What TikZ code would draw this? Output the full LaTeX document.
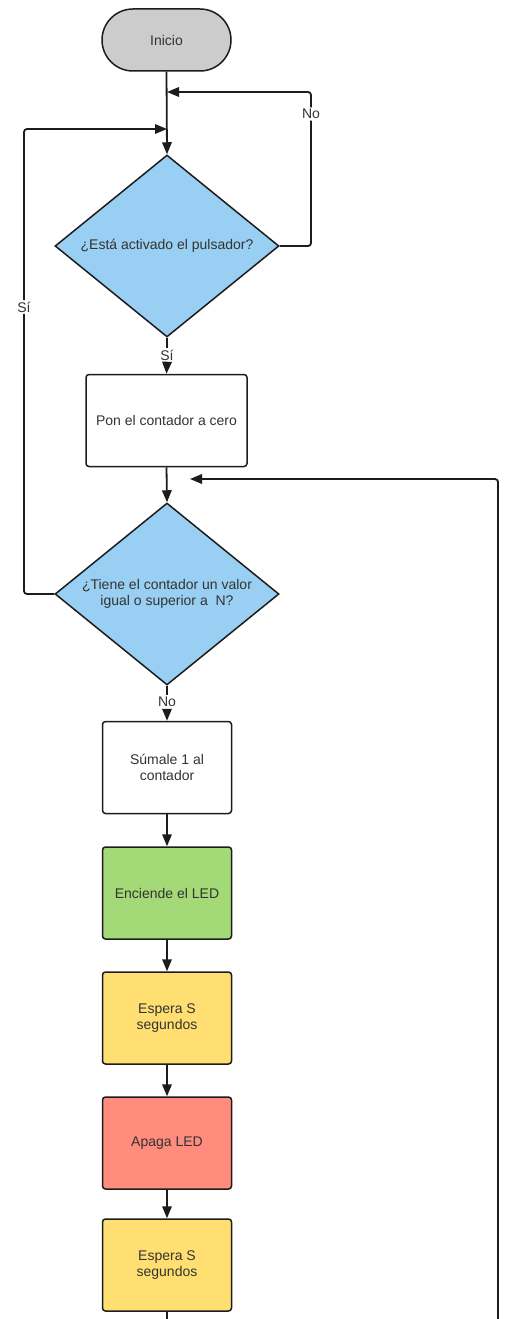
\documentclass[tikz,border=0pt]{standalone}
\usepackage{fontspec}
\setmainfont{Liberation Sans}
\usetikzlibrary{shapes.geometric,arrows.meta}
\definecolor{lnc}{HTML}{1C1C1C}
\definecolor{txc}{HTML}{333333}
\definecolor{greyf}{HTML}{CCCCCC}
\definecolor{bluef}{HTML}{99CFF2}
\definecolor{greenf}{HTML}{A3D977}
\definecolor{yellowf}{HTML}{FFDF71}
\definecolor{redf}{HTML}{FF8C7D}
\begin{document}
\begin{tikzpicture}[x=1pt,y=-1pt,
  every node/.style={font=\fontsize{14}{16.5}\selectfont, text=txc},
  term/.style={draw=lnc, line width=1.5pt, fill=greyf, rounded corners=31pt, minimum width=129pt, minimum height=62pt},
  dec/.style={diamond, draw=lnc, line width=1.5pt, fill=bluef, inner sep=0pt, shape aspect=1.23, minimum width=224pt, minimum height=182pt, align=center},
  proc/.style={draw=lnc, line width=1.5pt, rounded corners=3pt, minimum width=129pt, minimum height=92pt, align=center},
  lab/.style={fill=white, inner sep=1.5pt},
  conn/.style={draw=lnc, line width=1.8pt, rounded corners=3pt},
  arr/.style={conn, -{Triangle[length=12pt, width=9.5pt]}}
]
\useasboundingbox (0,0) rectangle (504,1319);
\fill[white] (0,0) rectangle (504,1319);

% nodes
\node[term] (inicio) at (166.5,40) {Inicio};
\node[dec] (d1) at (167,246) {¿Está activado el pulsador?};
\node[proc, minimum width=161pt] (b1) at (166.5,420.5) {Pon el contador a cero};
\node[dec] (d2) at (167,594) {¿Tiene el contador un valor\\igual o superior a~~N?};
\node[proc] (b2) at (167,767.5) {Súmale 1 al\\contador};
\node[proc, fill=greenf] (b3) at (167,893) {Enciende el LED};
\node[proc, fill=yellowf] (b4) at (167,1018) {Espera S\\segundos};
\node[proc, fill=redf] (b5) at (167,1143) {Apaga LED};
\node[proc, fill=yellowf] (b6) at (167,1265) {Espera S\\segundos};

% labels
\node[lab] (no1) at (311,114) {No};
\node[lab] (si1) at (24,307) {Sí};
\node[lab] (si2) at (167,355) {Sí};
\node[lab] (no2) at (167,702) {No};

% junction coordinates
\coordinate (j1) at (167,92);
\coordinate (j2) at (167,129);
\coordinate (j3) at (190,479);
\coordinate (bot) at (167,1319);
\coordinate (rb) at (498,1319);

% connectors
\draw[arr] (inicio.south) -- (d1.north);
\draw[conn] (d1.east) -| (no1.south);
\draw[arr] (no1.north) |- (j1);
\draw[conn] (d2.west) -| (si1.south);
\draw[arr] (si1.north) |- (j2);
\draw[conn] (d1.south) -- (si2.north);
\draw[arr] (si2.south) -- (b1.north);
\draw[arr] (b1.south) -- (d2.north);
\draw[conn] (d2.south) -- (no2.north);
\draw[arr] (no2.south) -- (b2.north);
\draw[arr] (b2.south) -- (b3.north);
\draw[arr] (b3.south) -- (b4.north);
\draw[arr] (b4.south) -- (b5.north);
\draw[arr] (b5.south) -- (b6.north);
\draw[conn] (b6.south) -- (bot);
\draw[arr] (rb) |- (j3);
\end{tikzpicture}
\end{document}
